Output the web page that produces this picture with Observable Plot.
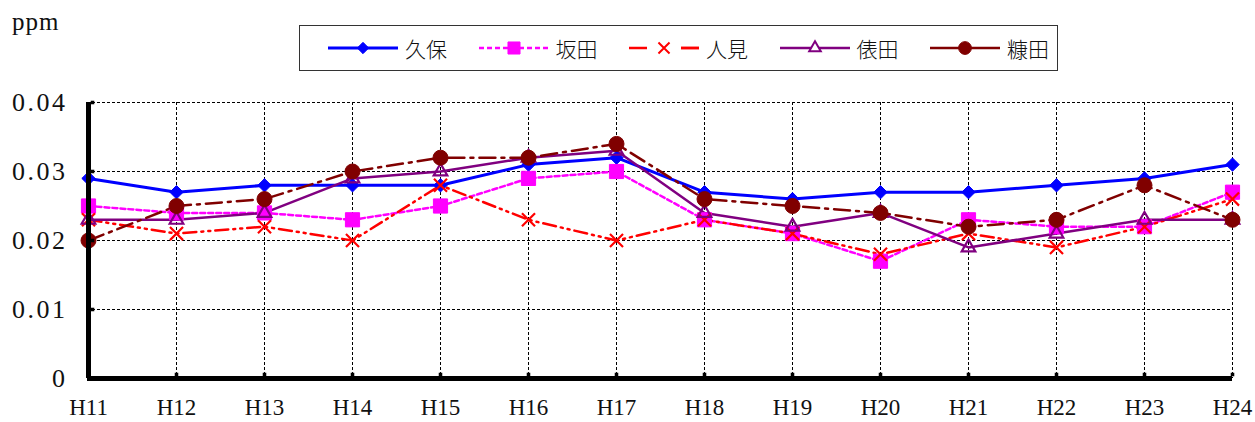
<!DOCTYPE html>
<html><head><meta charset="utf-8">
<script src="https://cdn.jsdelivr.net/npm/d3@7"></script>
<script src="https://cdn.jsdelivr.net/npm/@observablehq/plot@0.6"></script>
<style>
body{margin:0;background:#fff;width:1255px;height:422px;overflow:hidden;font-family:"Liberation Serif",serif;}
#head{position:relative;height:75px;}
#ppm{position:absolute;left:12px;top:8px;font-size:25px;letter-spacing:1px;color:#111;}
#legend{position:absolute;left:299px;top:25px;width:759px;height:46px;border:1.5px solid #333;box-sizing:border-box;}
.item{position:absolute;top:0;height:43px;display:flex;align-items:center;}
.item span{font-family:"Noto Sans CJK JP",sans-serif;font-weight:300;font-size:21px;margin-left:7px;color:#111;}
#chart svg text{font-family:"Liberation Serif",serif;fill:#111;}
#chart svg g[aria-label="y-axis tick label"] text{letter-spacing:2.5px;}
</style></head><body>
<div id="head"><div id="ppm">ppm</div><div id="legend"></div></div>
<div id="chart"></div>
<script>
const years = ["H11","H12","H13","H14","H15","H16","H17","H18","H19","H20","H21","H22","H23","H24"];
const seriesNames = ["久保","坂田","人見","俵田","糠田"];
const kubo   = [0.029,0.027,0.028,0.028,0.028,0.031,0.032,0.027,0.026,0.027,0.027,0.028,0.029,0.031];
const sakata = [0.025,0.024,0.024,0.023,0.025,0.029,0.030,0.023,0.021,0.017,0.023,0.022,0.022,0.027];
const hitomi = [0.023,0.021,0.022,0.020,0.028,0.023,0.020,0.023,0.021,0.018,0.021,0.019,0.022,0.026];
const tawarada = [0.023,0.023,0.024,0.029,0.030,0.032,0.033,0.024,0.022,0.024,0.019,0.021,0.023,0.023];
const nukata = [0.020,0.025,0.026,0.030,0.032,0.032,0.034,0.026,0.025,0.024,0.022,0.023,0.028,0.023];
const yTicks = [0,0.01,0.02,0.03,0.04];
const yTickLabels = ["0","0.01","0.02","0.03","0.04"];

const seriesValues = [kubo, sakata, hitomi, tawarada, nukata];
const styles = [
  {color:"#0000ff", dash:null, width:3, symbol:"diamond2", filled:true, r:6},
  {color:"#ff00ff", dash:"5,3", width:2.5, symbol:"square", filled:true, r:8},
  {color:"#ff0000", dash:"13,5,2,5,2,5", width:2.5, symbol:"times", filled:false, r:6},
  {color:"#800080", dash:null, width:2.5, symbol:"triangle2", filled:false, r:6.5},
  {color:"#800000", dash:"16,6,3,6", width:2.5, symbol:"circle", filled:true, r:7.5}
];

const rows = [];
seriesNames.forEach((n,i)=>seriesValues[i].forEach((v,j)=>rows.push({year:years[j], value:v, series:n})));

const lineMarks = seriesNames.map((n,i)=>Plot.line(rows.filter(d=>d.series===n), {
  x:"year", y:"value", stroke:styles[i].color, strokeWidth:styles[i].width,
  strokeDasharray:styles[i].dash || undefined
}));
const dotMarks = seriesNames.map((n,i)=>Plot.dot(rows.filter(d=>d.series===n), {
  x:"year", y:"value", symbol:styles[i].symbol, r:styles[i].r,
  fill: styles[i].filled ? styles[i].color : "none",
  stroke: styles[i].color, strokeWidth: styles[i].filled ? 1 : 2.2
}));

const chart = Plot.plot({
  width:1255, height:347,
  marginTop:27, marginBottom:44, marginLeft:87, marginRight:23,
  style:{fontFamily:"Liberation Serif, serif", fontSize:"22px", color:"#111", background:"#fff"},
  x:{type:"point", domain:years, padding:0},
  y:{domain:[0,0.04]},
  marks:[
    Plot.gridX({stroke:"#000", strokeOpacity:1, strokeDasharray:"3,2", strokeWidth:1}),
    Plot.gridY({ticks:yTicks, stroke:"#000", strokeOpacity:1, strokeDasharray:"3,2", strokeWidth:1}),
    Plot.axisX({tickSize:0, tickPadding:20, label:null, fontSize:23}),
    Plot.axisY({ticks:yTicks, tickSize:0, tickPadding:20, label:null, fontSize:26,
      tickFormat:d=>yTickLabels[yTicks.indexOf(d)]}),
    ...lineMarks,
    ...dotMarks,
    Plot.ruleY([0], {stroke:"#000", strokeWidth:5}),
    Plot.ruleX([years[0]], {stroke:"#000", strokeWidth:5}),
    Plot.dot(yTicks.slice(1), {x:()=>years[0], y:d=>d, symbol:"square", r:2, fill:"#000", dx:4}),
    Plot.dot(years.slice(1), {x:d=>d, y:()=>0, symbol:"square", r:2, fill:"#000", dy:-4})
  ]
});
document.getElementById("chart").appendChild(chart);

// legend
const legend = d3.select("#legend");
seriesNames.forEach((n,i)=>{
  const s = styles[i];
  const item = legend.append("div").attr("class","item").style("left",(28 + i*150.5)+"px");
  const svg = item.append("svg").attr("width",70).attr("height",20);
  const ln = svg.append("line").attr("x1",0).attr("x2",70).attr("y1",10).attr("y2",10)
    .attr("stroke",s.color).attr("stroke-width",s.width);
  if (i===1) ln.attr("stroke-dasharray", s.dash);
  if (i===2) ln.attr("stroke-dasharray","18,34");
  if (i===2) svg.append("line").attr("x1",52).attr("x2",70).attr("y1",10).attr("y2",10).attr("stroke",s.color).attr("stroke-width",s.width);
  const sym = {diamond2:d3.symbolDiamond2, square:d3.symbolSquare, times:d3.symbolTimes, triangle2:d3.symbolTriangle2, circle:d3.symbolCircle}[s.symbol];
  const r = s.r*0.85;
  svg.append("path").attr("transform","translate(35,10)")
    .attr("d", d3.symbol(sym, r*r*Math.PI)())
    .attr("fill", s.filled ? s.color : "#fff").attr("stroke", s.color).attr("stroke-width", s.filled?1:2);
  item.append("span").text(n);
});
</script>
</body></html>
